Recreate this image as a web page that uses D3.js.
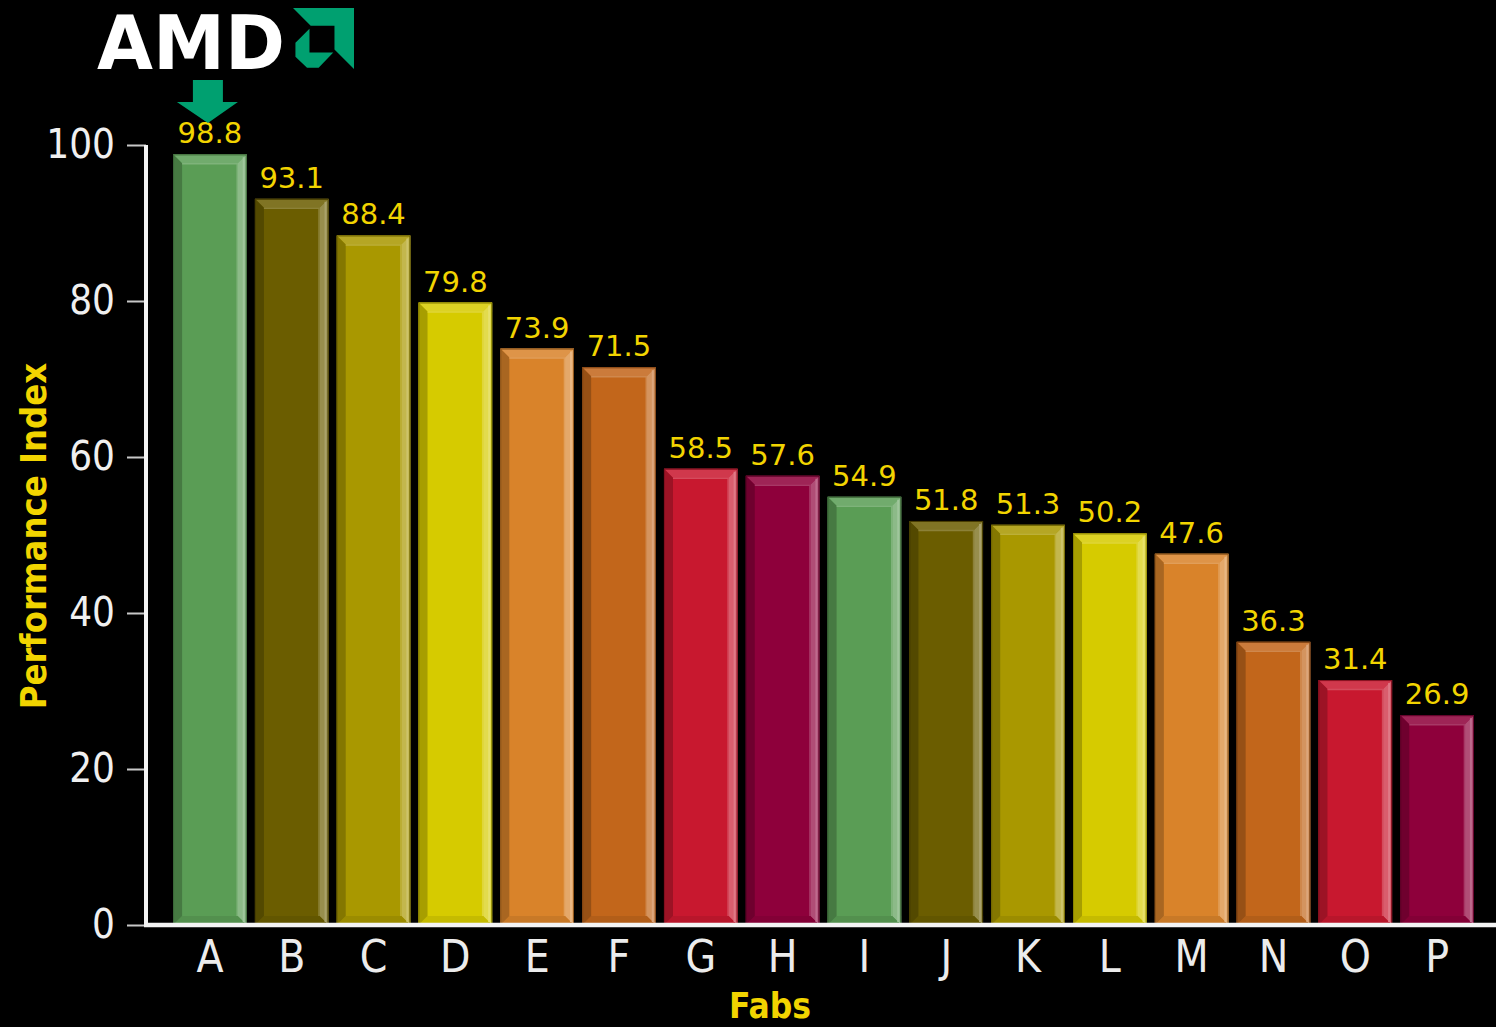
<!DOCTYPE html>
<html>
<head>
<meta charset="utf-8">
<script src="https://cdn.jsdelivr.net/npm/d3@7"></script>
<style>
  html, body { margin: 0; padding: 0; background: #000; }
  svg { display: block; }
</style>
</head>
<body>
<div id="chart"></div>
<script>
// data
const fabs = ["A", "B", "C", "D", "E", "F", "G", "H", "I", "J", "K", "L", "M", "N", "O", "P"];
const perfIndex = [98.8, 93.1, 88.4, 79.8, 73.9, 71.5, 58.5, 57.6, 54.9, 51.8, 51.3, 50.2, 47.6, 36.3, 31.4, 26.9];
const yTicks = [0, 20, 40, 60, 80, 100];
const barColors = ["#5a9d55", "#6b5d00", "#a99800", "#d6cb00", "#d9832a", "#c2661b", "#c8182f", "#8e003b"];
const highlighted = "A";

const width = 1496;
const height = 1027;
const yellow = "#f2d400";
const amdGreen = "#00a070";

const svg = d3.select("#chart").append("svg")
    .attr("width", width)
    .attr("height", height)
    .style("background", "#000");

const x = d3.scaleBand()
    .domain(fabs)
    .range([169, 1478])
    .paddingInner(0.1)
    .paddingOuter(0.05);

const y = d3.scaleLinear()
    .domain([0, 100])
    .range([925, 145]);

// bars with a bevelled edge
const bevel = 9;
const tint = (c, t) => d3.color(d3.interpolateRgb(c, "#ffffff")(t)).formatHex();
const shade = (c, t) => d3.color(d3.interpolateRgb(c, "#000000")(t)).formatHex();

const bars = svg.append("g").selectAll("g")
    .data(fabs.map((f, i) => ({ fab: f, v: perfIndex[i], c: barColors[i % barColors.length] })))
    .enter().append("g")
    .attr("transform", d => "translate(" + x(d.fab) + "," + y(d.v) + ")");

bars.each(function (d) {
    const g = d3.select(this);
    const w = x.bandwidth();
    const h = y(0) - y(d.v);
    const pts = p => p.map(q => q.join(",")).join(" ");
    g.append("rect")
        .attr("width", w).attr("height", h)
        .attr("fill", d.c);
    g.append("polygon")
        .attr("points", pts([[0, 0], [w, 0], [w - bevel, bevel], [bevel, bevel]]))
        .attr("fill", tint(d.c, 0.14));
    g.append("polygon")
        .attr("points", pts([[w, 0], [w, h], [w - bevel, h - bevel], [w - bevel, bevel]]))
        .attr("fill", tint(d.c, 0.3));
    g.append("polygon")
        .attr("points", pts([[0, h], [w, h], [w - bevel, h - bevel], [bevel, h - bevel]]))
        .attr("fill", shade(d.c, 0.08));
    g.append("polygon")
        .attr("points", pts([[0, 0], [0, h], [bevel, h - bevel], [bevel, bevel]]))
        .attr("fill", shade(d.c, 0.22));
    // thin highlight along inner top and right edges
    g.append("path")
        .attr("d", "M" + bevel + "," + (bevel + 0.5) + "H" + (w - bevel - 0.5) + "V" + (h - bevel))
        .attr("fill", "none")
        .attr("stroke", tint(d.c, 0.22))
        .attr("stroke-width", 1.5);
    g.append("line")
        .attr("x1", w - 3).attr("x2", w - 3)
        .attr("y1", 3).attr("y2", h - 3)
        .attr("stroke", tint(d.c, 0.42))
        .attr("stroke-width", 2);
    g.append("rect")
        .attr("x", 0.5).attr("y", 0.5)
        .attr("width", w - 1).attr("height", h - 1)
        .attr("fill", "none")
        .attr("stroke", shade(d.c, 0.35))
        .attr("stroke-width", 1);
});

// value labels
svg.append("g").selectAll("text")
    .data(fabs.map((f, i) => ({ fab: f, v: perfIndex[i] })))
    .enter().append("text")
    .attr("x", d => x(d.fab) + x.bandwidth() / 2)
    .attr("y", d => y(d.v) - 11)
    .attr("text-anchor", "middle")
    .attr("fill", yellow)
    .style("font-family", "'DejaVu Sans', Verdana, sans-serif")
    .style("font-size", "29px")
    .text(d => d.v.toFixed(1));

// y axis
const yAxis = svg.append("g")
    .attr("transform", "translate(146,0)")
    .call(d3.axisLeft(y).tickValues(yTicks).tickSize(19).tickPadding(12));
yAxis.select(".domain").remove();
yAxis.selectAll(".tick line").attr("stroke", "#c8c8c8").attr("stroke-width", 2);
yAxis.selectAll(".tick text")
    .attr("fill", "#f0f0f0")
    .style("font-family", "'DejaVu Sans Condensed', Tahoma, sans-serif")
    .style("font-size", "40px");
svg.append("line")
    .attr("x1", 146).attr("x2", 146)
    .attr("y1", y(100)).attr("y2", y(0) + 2)
    .attr("stroke", "#f4f4f4").attr("stroke-width", 4);

// x axis
const xAxis = svg.append("g")
    .attr("transform", "translate(0," + y(0) + ")")
    .call(d3.axisBottom(x).tickSize(0).tickPadding(16));
xAxis.select(".domain").remove();
xAxis.selectAll(".tick text")
    .attr("fill", "#ececec")
    .style("font-family", "'DejaVu Sans Condensed', Tahoma, sans-serif")
    .style("font-size", "44px");
svg.append("line")
    .attr("x1", 144).attr("x2", width)
    .attr("y1", y(0)).attr("y2", y(0))
    .attr("stroke", "#f4f4f4").attr("stroke-width", 4.5);

// axis titles
svg.append("text")
    .attr("transform", "translate(46," + 536 + ") rotate(-90)")
    .attr("text-anchor", "middle")
    .attr("fill", yellow)
    .style("font-family", "'DejaVu Sans Condensed', Tahoma, sans-serif")
    .style("font-weight", "bold")
    .style("font-size", "36px")
    .text("Performance Index");
svg.append("text")
    .attr("x", 770)
    .attr("y", 1018)
    .attr("text-anchor", "middle")
    .attr("fill", yellow)
    .style("font-family", "'DejaVu Sans Condensed', Tahoma, sans-serif")
    .style("font-weight", "bold")
    .style("font-size", "35px")
    .text("Fabs");

// AMD logo
const logo = svg.append("g");
logo.append("text")
    .attr("transform", "translate(97,69) scale(1,1.06)")
    .attr("fill", "#ffffff")
    .attr("textLength", 188)
    .attr("lengthAdjust", "spacingAndGlyphs")
    .style("font-family", "'DejaVu Sans', Verdana, sans-serif")
    .style("font-weight", "bold")
    .style("font-size", "70px")
    .text("AMD");
const mark = logo.append("g").attr("transform", "translate(293,8) scale(61)");
mark.append("polygon")
    .attr("points", "0,0 1,0 1,1 0.68,0.68 0.68,0.29 0.29,0.29")
    .attr("fill", amdGreen);
mark.append("polygon")
    .attr("points", "0.04,0.57 0.27,0.34 0.27,0.73 0.66,0.73 0.42,0.98 0.23,0.98 0.04,0.8")
    .attr("fill", amdGreen);

// arrow pointing at the highlighted fab
const ax = x(highlighted) + x.bandwidth() / 2 - 2;
svg.append("polygon")
    .attr("points", [
        [ax - 15, 80], [ax + 15, 80], [ax + 15, 102], [ax + 30, 102],
        [ax, 123], [ax - 31, 102], [ax - 15, 102]
    ].map(p => p.join(",")).join(" "))
    .attr("fill", amdGreen);
</script>
</body>
</html>
